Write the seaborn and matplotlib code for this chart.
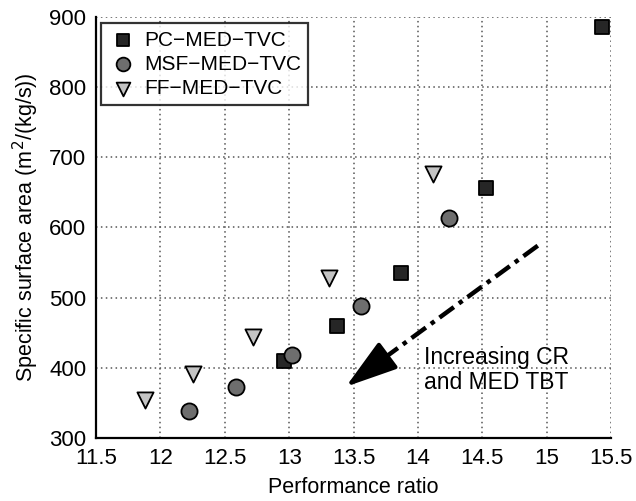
import matplotlib
matplotlib.use("Agg")
import matplotlib.pyplot as plt
import seaborn as sns
import pandas as pd

pc_x = [12.96, 13.37, 13.87, 14.53, 15.43]
pc_y = [410, 460, 535, 656, 886]
msf_x = [12.22, 12.59, 13.02, 13.56, 14.24]
msf_y = [339, 372, 418, 488, 614]
ff_x = [11.88, 12.25, 12.72, 13.31, 14.12]
ff_y = [354, 391, 444, 528, 676]
series = ["PC\u2212MED\u2212TVC", "MSF\u2212MED\u2212TVC", "FF\u2212MED\u2212TVC"]

rows = []
for name, xs, ys in zip(series, [pc_x, msf_x, ff_x], [pc_y, msf_y, ff_y]):
    for x, y in zip(xs, ys):
        rows.append({"pr": x, "area": y, "config": name})
df = pd.DataFrame(rows)

sns.set_style("white")
plt.rcParams['font.family'] = ['Liberation Sans', 'DejaVu Sans']
plt.rcParams['text.color'] = 'black'
plt.rcParams['axes.labelcolor'] = 'black'

fig = plt.figure(figsize=(6.36, 5.01), dpi=100)
ax = fig.add_axes([0.151, 0.126, 0.810, 0.840])

palette = {series[0]: "#262626", series[1]: "#6e6e6e", series[2]: "#c4c4c4"}
markers = {series[0]: "s", series[1]: "o", series[2]: "v"}
sizes = {series[0]: 105, series[1]: 135, series[2]: 135}
for name in series:
    sub = df[df.config == name]
    sns.scatterplot(data=sub, x="pr", y="area", color=palette[name], marker=markers[name],
                    s=sizes[name], edgecolor="black", linewidth=1.3, ax=ax, label=name, zorder=3)

ax.set_xlim(11.5, 15.5)
ax.set_ylim(300, 900)
ax.set_xticks([11.5, 12, 12.5, 13, 13.5, 14, 14.5, 15, 15.5])
ax.set_xticklabels(["11.5", "12", "12.5", "13", "13.5", "14", "14.5", "15", "15.5"])
ax.set_yticks([300, 400, 500, 600, 700, 800, 900])
ax.grid(True, linestyle=(0, (1, 2.2)), color="#555555", linewidth=1.1)
for s in ["top", "right"]:
    ax.spines[s].set_visible(False)
for s in ["left", "bottom"]:
    ax.spines[s].set_linewidth(1.6)
    ax.spines[s].set_color("black")
ax.tick_params(direction="in", length=5, width=1.2, labelsize=16, colors="black", pad=7)
ax.set_xlabel("Performance ratio", fontsize=15.5, labelpad=6, color="black")
ax.set_ylabel("Specific surface area (m$^2$/(kg/s))", fontsize=15.5, labelpad=6, color="black")

# arrow: dash-dot shaft + solid head
x0, y0, x1, y1 = 14.93, 574, 13.44, 373
ax.plot([x0, 13.62], [y0, 398], color="black", linewidth=3.2,
        linestyle=(0, (4, 1.4, 1, 1.4)), zorder=4, solid_capstyle="butt")
ax.annotate("", xy=(x1, y1), xytext=(13.66, 403),
            arrowprops=dict(arrowstyle="-|>,head_length=1.6,head_width=0.5", color="black",
                            linewidth=3, shrinkA=0, shrinkB=0, mutation_scale=20),
            zorder=4)
ax.text(14.05, 397, "Increasing CR\nand MED TBT", fontsize=16.5, va="center", ha="left",
        linespacing=1.1, color="black")

leg = ax.legend(loc="upper left", fontsize=15, frameon=True, fancybox=False, edgecolor="black",
                handletextpad=0.3, borderpad=0.35, labelspacing=0.25, handlelength=1.4,
                markerscale=0.85, bbox_to_anchor=(0.01, 0.985), borderaxespad=0)
leg.get_frame().set_linewidth(1.6)
for t in leg.get_texts():
    t.set_color("black")

fig.savefig("out.png", dpi=100)
